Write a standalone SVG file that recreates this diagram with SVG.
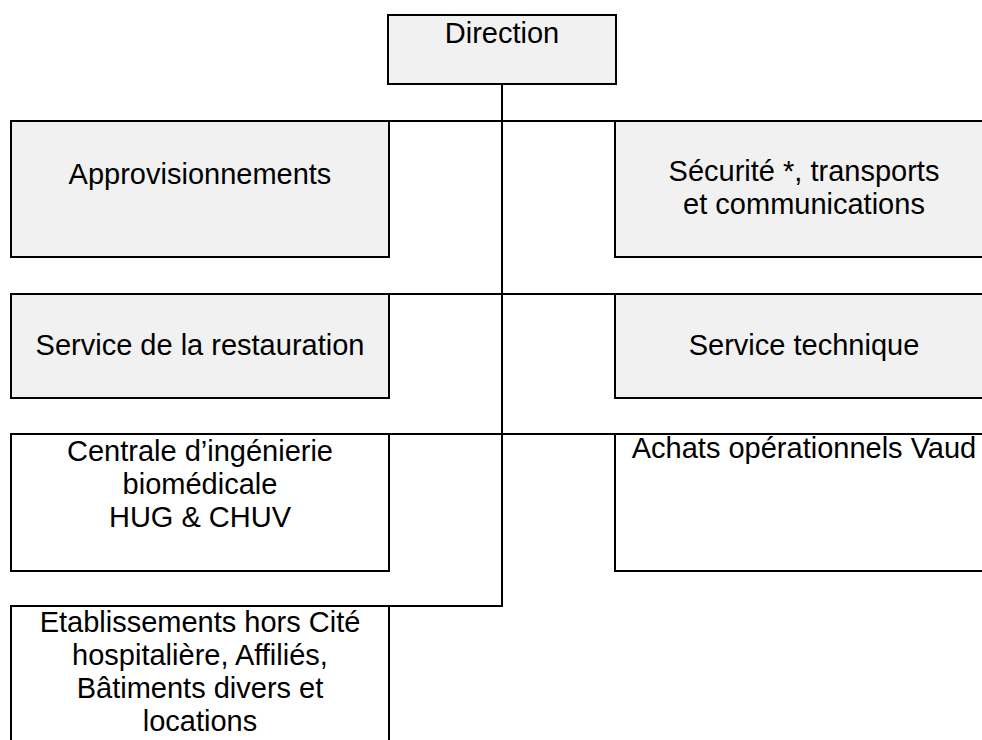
<svg xmlns="http://www.w3.org/2000/svg" width="982" height="740" viewBox="0 0 982 740">
  <style>
    .box { stroke: #000; stroke-width: 2; }
    .grey { fill: #f1f1f1; }
    .white { fill: #ffffff; }
    .wire { stroke: #000; stroke-width: 2; fill: none; }
    text { font-family: "Liberation Sans", Arial, sans-serif; font-size: 29px; fill: #000; text-anchor: middle; }
  </style>
  <rect width="982" height="740" fill="#ffffff"/>

  <!-- connectors -->
  <g id="connectors">
    <line class="wire" x1="502" y1="84" x2="502" y2="606"/>
    <line class="wire" x1="10" y1="121" x2="995" y2="121"/>
    <line class="wire" x1="10" y1="294" x2="995" y2="294"/>
    <line class="wire" x1="10" y1="434" x2="995" y2="434"/>
    <line class="wire" x1="10" y1="606" x2="503" y2="606"/>
  </g>

  <g id="direction">
    <rect class="box grey" x="388" y="15" width="228" height="69"/>
    <text x="502" y="43">Direction</text>
  </g>

  <g id="approvisionnements">
    <rect class="box grey" x="11" y="121" width="378" height="136"/>
    <text x="200" y="184">Approvisionnements</text>
  </g>

  <g id="securite">
    <rect class="box grey" x="615" y="121" width="378" height="136"/>
    <text x="804" y="181">Sécurité *, transports</text>
    <text x="804" y="214">et communications</text>
  </g>

  <g id="restauration">
    <rect class="box grey" x="11" y="294" width="378" height="104"/>
    <text x="200" y="355">Service de la restauration</text>
  </g>

  <g id="technique">
    <rect class="box grey" x="615" y="294" width="378" height="104"/>
    <text x="804" y="355">Service technique</text>
  </g>

  <g id="biomedicale">
    <rect class="box white" x="11" y="434" width="378" height="137"/>
    <text x="200" y="461">Centrale d’ingénierie</text>
    <text x="200" y="494">biomédicale</text>
    <text x="200" y="527">HUG &amp; CHUV</text>
  </g>

  <g id="achats">
    <rect class="box white" x="615" y="434" width="378" height="137"/>
    <text x="804" y="458">Achats opérationnels Vaud</text>
  </g>

  <g id="etablissements">
    <rect class="box white" x="11" y="606" width="378" height="160"/>
    <text x="200" y="632">Etablissements hors Cité</text>
    <text x="200" y="665">hospitalière, Affiliés,</text>
    <text x="200" y="698">Bâtiments divers et</text>
    <text x="200" y="731">locations</text>
  </g>
</svg>
